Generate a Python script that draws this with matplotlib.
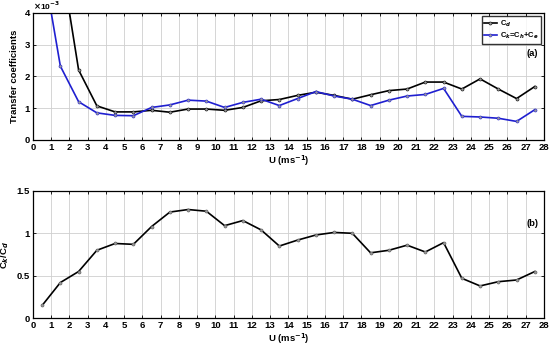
import numpy as np
import matplotlib
matplotlib.use('Agg')
import matplotlib.pyplot as plt

plt.rcParams['font.family'] = 'Liberation Sans'
plt.rcParams['font.weight'] = 'bold'
plt.rcParams['font.size'] = 6.8

# wind speed bins
u = [0.5, 1.5, 2.5, 3.5, 4.5, 5.5, 6.5, 7.5, 8.5, 9.5, 10.5, 11.5, 12.5, 13.5,
     14.5, 15.5, 16.5, 17.5, 18.5, 19.5, 20.5, 21.5, 22.5, 23.5, 24.5, 25.5, 26.5, 27.5]

# transfer coefficients (x 1e-3)
cd = [37.9, 5.8, 2.2, 1.07, 0.88, 0.88, 0.93, 0.87, 0.97, 0.97, 0.93, 1.02, 1.23, 1.27,
      1.4, 1.5, 1.4, 1.28, 1.42, 1.55, 1.6, 1.82, 1.82, 1.6, 1.92, 1.6, 1.3, 1.68]
ck = [5.68, 2.32, 1.2, 0.85, 0.77, 0.76, 1.02, 1.1, 1.25, 1.22, 1.02, 1.18, 1.28, 1.08,
      1.3, 1.52, 1.38, 1.28, 1.08, 1.25, 1.38, 1.43, 1.62, 0.74, 0.72, 0.68, 0.58, 0.95]

# ratio Ck/Cd
ratio = [0.15, 0.42, 0.55, 0.8, 0.88, 0.87, 1.08, 1.25, 1.28, 1.26, 1.09, 1.15, 1.04, 0.85,
         0.92, 0.98, 1.01, 1.0, 0.77, 0.8, 0.86, 0.78, 0.89, 0.47, 0.38, 0.43, 0.45, 0.55]

fig = plt.figure(figsize=(5.5, 3.47), dpi=100)
ax1 = fig.add_axes([0.06, 0.597, 0.929, 0.366])
ax2 = fig.add_axes([0.06, 0.083, 0.929, 0.367])

mk = dict(marker='o', markersize=2.2, markerfacecolor='#9a9a9a', markeredgewidth=0.4)

ax1.plot(u, cd, color='black', lw=1.2, markeredgecolor='black', label='C$_d$', **mk)
ax1.plot(u, ck, color='#1f1fd0', lw=1.2, markeredgecolor='#1f1fd0',
         label='C$_k$=C$_h$+C$_e$', **mk)
ax1.set_ylim(0, 4)
ax1.set_yticks([0, 1, 2, 3, 4])
ax1.set_ylabel('Transfer coefficients', fontweight='bold')
ax1.text(0.0, 1.005, r'$\times$10$^{-3}$', transform=ax1.transAxes, fontsize=6, va='bottom')
leg = ax1.legend(loc='upper right', fontsize=5.5, frameon=True, fancybox=False,
                 edgecolor='black', borderpad=0.35, handlelength=1.6, handletextpad=0.4,
                 labelspacing=0.3, borderaxespad=0.35)
leg.get_frame().set_linewidth(1.0)
ax1.text(27.7, 2.72, '(a)', ha='right', va='center', fontweight='bold')

ax2.plot(u, ratio, color='black', lw=1.2, markeredgecolor='#555555', **mk)
ax2.set_ylim(0, 1.5)
ax2.set_yticks([0, 0.5, 1, 1.5])
ax2.set_yticklabels(['0', '0.5', '1', '1.5'])
ax2.set_ylabel('C$_k$/C$_d$', fontweight='bold')
ax2.text(27.7, 1.12, '(b)', ha='right', va='center', fontweight='bold')

for ax in (ax1, ax2):
    ax.set_xlim(0, 28)
    ax.set_xticks(np.arange(0, 29, 1))
    ax.set_xlabel('U (ms$^{-1}$)', fontweight='bold', labelpad=1)
    ax.grid(True, color='#cfcfcf', lw=0.6)
    ax.set_axisbelow(True)
    ax.tick_params(direction='in', length=2.5, width=0.6, pad=2, top=True, right=True)
    for s in ax.spines.values():
        s.set_linewidth(0.9)

fig.savefig('out.png', dpi=100)
